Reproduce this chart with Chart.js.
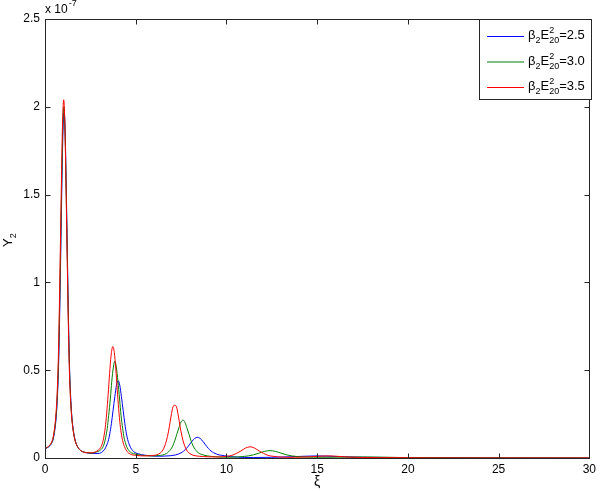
<!DOCTYPE html>
<html>
<head>
<meta charset="utf-8">
<script src="https://cdn.jsdelivr.net/npm/chart.js@4.4.1/dist/chart.umd.min.js"></script>
<style>
  html, body { margin: 0; padding: 0; background: #fff; }
  #wrap { width: 600px; height: 491px; }
</style>
</head>
<body>
<div id="wrap"><canvas id="grafico" width="600" height="491"></canvas></div>
<script>
// Valores (eixo y em unidades de 1e-7)
const xTicks = [0, 5, 10, 15, 20, 25, 30];
const yTicks = [0, 0.5, 1, 1.5, 2, 2.5];
const legendValues = ['2.5', '3.0', '3.5'];

// beta2*E20^2 = 2.5 (azul)
const xiBlue = [
    0, 0.09, 0.21, 0.33, 0.45, 0.57, 0.63, 0.69, 0.75, 0.81,
    0.87, 0.93, 0.99, 1.05, 1.11, 1.17, 1.23, 1.29, 1.35, 1.41,
    1.47, 1.53, 1.65, 1.77, 1.89, 2.0, 2.3, 2.6, 2.92, 3.11,
    3.29, 3.38, 3.48, 3.57, 3.66, 3.75, 3.85, 3.94, 4.03, 4.12,
    4.21, 4.31, 4.40, 4.49, 4.58, 4.68, 4.77, 4.96, 5.14, 5.5,
    6.0, 6.3, 6.6, 6.9, 7.2, 7.35, 7.5, 7.65, 7.8, 7.95,
    8.1, 8.25, 8.4, 8.55, 8.7, 8.85, 9.0, 9.15, 9.3, 9.45,
    9.6, 9.9, 10.2, 10.6, 11.0, 11.5, 12.5, 13.5, 14.3, 15.0,
    15.7, 16.5, 17.5, 18.5, 20, 22, 24, 27, 30
];
const yBlue = [
    0.054, 0.057, 0.064, 0.078, 0.107, 0.183, 0.25, 0.36, 0.53, 0.82,
    1.18, 1.55, 1.86, 1.97, 1.86, 1.55, 1.18, 0.82, 0.53, 0.36,
    0.25, 0.183, 0.107, 0.07, 0.05, 0.04, 0.03, 0.026, 0.026, 0.031,
    0.05, 0.068, 0.096, 0.137, 0.196, 0.27, 0.35, 0.415, 0.44, 0.415,
    0.35, 0.27, 0.196, 0.137, 0.096, 0.068, 0.05, 0.031, 0.024, 0.016,
    0.011, 0.010, 0.011, 0.0129, 0.0176, 0.0223, 0.0295, 0.040, 0.055, 0.0745,
    0.095, 0.1115, 0.118, 0.1115, 0.095, 0.0745, 0.055, 0.040, 0.0295, 0.0223,
    0.0176, 0.0129, 0.008, 0.005, 0.003, 0.003, 0.004, 0.007, 0.010, 0.012,
    0.010, 0.007, 0.004, 0.003, 0.002, 0.0025, 0.001, 0.0005, 0.0003
];

// beta2*E20^2 = 3.0 (verde)
const xiGreen = [
    0, 0.08, 0.20, 0.32, 0.44, 0.56, 0.62, 0.68, 0.74, 0.80,
    0.86, 0.92, 0.98, 1.04, 1.10, 1.16, 1.22, 1.28, 1.34, 1.40,
    1.46, 1.52, 1.64, 1.76, 1.88, 2.0, 2.3, 2.6, 2.83, 3.00,
    3.17, 3.26, 3.34, 3.43, 3.51, 3.60, 3.68, 3.77, 3.85, 3.93,
    4.02, 4.11, 4.19, 4.28, 4.36, 4.45, 4.53, 4.70, 4.87, 5.2,
    5.6, 6.0, 6.25, 6.48, 6.70, 6.81, 6.93, 7.04, 7.15, 7.26,
    7.38, 7.49, 7.60, 7.71, 7.82, 7.94, 8.05, 8.16, 8.28, 8.39,
    8.50, 8.73, 8.95, 9.4, 10.0, 10.6, 10.9, 11.2, 11.5, 11.8,
    12.1, 12.4, 12.7, 13.0, 13.3, 13.6, 13.9, 14.2, 14.8, 15.5,
    16.5, 17.5, 18.5, 19.5, 21, 23, 26, 30
];
const yGreen = [
    0.054, 0.057, 0.065, 0.079, 0.108, 0.186, 0.255, 0.36, 0.54, 0.83,
    1.20, 1.57, 1.88, 2.00, 1.88, 1.57, 1.20, 0.83, 0.54, 0.36,
    0.255, 0.186, 0.108, 0.071, 0.051, 0.04, 0.03, 0.028, 0.034, 0.041,
    0.058, 0.08, 0.115, 0.168, 0.243, 0.336, 0.437, 0.518, 0.552, 0.518,
    0.437, 0.336, 0.243, 0.168, 0.115, 0.08, 0.058, 0.034, 0.025, 0.017,
    0.013, 0.012, 0.014, 0.017, 0.026, 0.035, 0.049, 0.069, 0.098, 0.134,
    0.172, 0.204, 0.216, 0.204, 0.172, 0.134, 0.098, 0.069, 0.049, 0.035,
    0.026, 0.017, 0.012, 0.007, 0.0045, 0.006, 0.0083, 0.012, 0.0184, 0.028,
    0.0376, 0.042, 0.0376, 0.028, 0.0184, 0.012, 0.0083, 0.006, 0.0045, 0.004,
    0.005, 0.006, 0.005, 0.003, 0.002, 0.001, 0.0005, 0.0003
];

// beta2*E20^2 = 3.5 (vermelho)
const xiRed = [
    0, 0.07, 0.19, 0.31, 0.43, 0.55, 0.61, 0.67, 0.73, 0.79,
    0.85, 0.91, 0.97, 1.03, 1.09, 1.15, 1.21, 1.27, 1.33, 1.39,
    1.45, 1.51, 1.63, 1.75, 1.87, 2.0, 2.3, 2.6, 2.78, 2.94,
    3.10, 3.18, 3.26, 3.34, 3.42, 3.50, 3.58, 3.66, 3.74, 3.82,
    3.90, 3.98, 4.06, 4.14, 4.22, 4.30, 4.38, 4.54, 4.70, 5.0,
    5.5, 6.0, 6.15, 6.35, 6.45, 6.55, 6.65, 6.75, 6.85, 6.95,
    7.05, 7.15, 7.25, 7.35, 7.45, 7.55, 7.65, 7.75, 7.85, 7.95,
    8.15, 8.5, 9.0, 9.5, 9.8, 10.05, 10.3, 10.55, 10.8, 11.05,
    11.3, 11.55, 11.8, 12.05, 12.3, 12.55, 12.8, 13.3, 13.8, 14.5,
    15.0, 15.6, 16.2, 16.8, 17.5, 18.5, 19.5, 21, 23, 26, 30
];
const yRed = [
    0.055, 0.058, 0.066, 0.08, 0.11, 0.19, 0.26, 0.37, 0.55, 0.85,
    1.22, 1.60, 1.92, 2.04, 1.92, 1.60, 1.22, 0.85, 0.55, 0.37,
    0.26, 0.19, 0.11, 0.072, 0.052, 0.04, 0.03, 0.03, 0.035, 0.045,
    0.065, 0.09, 0.13, 0.19, 0.28, 0.39, 0.51, 0.60, 0.635, 0.60,
    0.51, 0.39, 0.28, 0.19, 0.13, 0.09, 0.065, 0.035, 0.022, 0.015,
    0.012, 0.015, 0.018, 0.028, 0.038, 0.056, 0.084, 0.123, 0.177, 0.239,
    0.29, 0.30, 0.29, 0.239, 0.177, 0.123, 0.084, 0.056, 0.038, 0.028,
    0.016, 0.01, 0.007, 0.006, 0.007, 0.010, 0.015, 0.026, 0.040, 0.0565,
    0.064, 0.0565, 0.040, 0.026, 0.015, 0.010, 0.007, 0.004, 0.004, 0.006,
    0.009, 0.012, 0.009, 0.005, 0.003, 0.002, 0.002, 0.001, 0.0005, 0.0003, 0.0002
];

const cores = ['#0000ff', '#008000', '#ff0000'];
const fonte = '"Liberation Sans", Arial, Helvetica, sans-serif';

function pontos(xs, ys) {
    return xs.map((x, i) => ({ x: x, y: ys[i] }));
}

// Plugin para a moldura, ticks internos, legenda e rótulos com sub/sobrescritos
const estiloMatlab = {
    id: 'estiloMatlab',
    afterDraw(chart) {
        const ctx = chart.ctx;
        const area = chart.chartArea;
        const sx = chart.scales.x;
        const sy = chart.scales.y;
        ctx.save();

        // moldura
        ctx.strokeStyle = '#262626';
        ctx.lineWidth = 1;
        const L = Math.round(area.left) + 0.5, R = Math.round(area.right) + 0.5;
        const T = Math.round(area.top) + 0.5, B = Math.round(area.bottom) + 0.5;
        ctx.strokeRect(L, T, R - L, B - T);

        // ticks para dentro nos quatro lados
        ctx.beginPath();
        xTicks.forEach(v => {
            const px = Math.round(sx.getPixelForValue(v)) + 0.5;
            ctx.moveTo(px, B); ctx.lineTo(px, B - 5);
            ctx.moveTo(px, T); ctx.lineTo(px, T + 5);
        });
        yTicks.forEach(v => {
            const py = Math.round(sy.getPixelForValue(v)) + 0.5;
            ctx.moveTo(L, py); ctx.lineTo(L + 5, py);
            ctx.moveTo(R, py); ctx.lineTo(R - 5, py);
        });
        ctx.stroke();

        ctx.fillStyle = '#000';
        ctx.textAlign = 'left';
        ctx.textBaseline = 'alphabetic';

        // multiplicador do eixo y
        ctx.font = '12px ' + fonte;
        ctx.fillText('x 10', 45, 13);
        const wx = ctx.measureText('x 10').width;
        ctx.font = '9px ' + fonte;
        ctx.fillText('-7', 45 + wx + 1, 6);

        // rótulo do eixo x
        ctx.font = '14px ' + fonte;
        ctx.textAlign = 'center';
        ctx.fillText('ξ', (area.left + area.right) / 2, 486);
        ctx.textAlign = 'left';

        // rótulo do eixo y (Y com índice 2)
        ctx.save();
        ctx.translate(12, 247);
        ctx.rotate(-Math.PI / 2);
        ctx.font = '13px ' + fonte;
        ctx.fillText('Y', 0, 0);
        const wy = ctx.measureText('Y').width;
        ctx.font = '9px ' + fonte;
        ctx.fillText('2', wy, 4);
        ctx.restore();

        // legenda
        const lx = 479.5, ly = 19.5, lw = 112, lh = 80;
        ctx.fillStyle = '#fff';
        ctx.fillRect(lx, ly, lw, lh);
        ctx.strokeStyle = '#262626';
        ctx.strokeRect(lx, ly, lw, lh);
        legendValues.forEach((val, i) => {
            const by = 39 + 25.5 * i;
            ctx.strokeStyle = cores[i];
            ctx.beginPath();
            ctx.moveTo(487, by - 2.5);
            ctx.lineTo(524, by - 2.5);
            ctx.stroke();

            ctx.fillStyle = '#000';
            let x = 528;
            ctx.font = '13px ' + fonte;
            ctx.fillText('β', x, by);
            x += ctx.measureText('β').width;
            ctx.font = '9px ' + fonte;
            ctx.fillText('2', x, by + 4);
            x += ctx.measureText('2').width;
            ctx.font = '13px ' + fonte;
            ctx.fillText('E', x, by);
            x += ctx.measureText('E').width;
            ctx.font = '9px ' + fonte;
            ctx.fillText('2', x, by - 6);
            ctx.fillText('20', x, by + 4);
            x += ctx.measureText('20').width;
            ctx.font = '13px ' + fonte;
            ctx.fillText('=' + val, x, by);
        });

        ctx.restore();
    }
};

const ctx = document.getElementById('grafico').getContext('2d');
new Chart(ctx, {
    type: 'line',
    data: {
        datasets: [
            { label: 'b2.5', data: pontos(xiBlue, yBlue), borderColor: cores[0], order: 3 },
            { label: 'b3.0', data: pontos(xiGreen, yGreen), borderColor: cores[1], order: 2 },
            { label: 'b3.5', data: pontos(xiRed, yRed), borderColor: cores[2], order: 1 }
        ]
    },
    options: {
        responsive: false,
        animation: false,
        devicePixelRatio: 1,
        layout: { padding: { top: 19, right: 8, left: 0, bottom: 0 } },
        elements: {
            line: { borderWidth: 1, fill: false, cubicInterpolationMode: 'monotone' },
            point: { radius: 0 }
        },
        plugins: {
            legend: { display: false },
            tooltip: { enabled: false }
        },
        scales: {
            x: {
                type: 'linear',
                min: 0,
                max: 30,
                afterFit: s => { s.height = 33; },
                afterBuildTicks: s => { s.ticks = xTicks.map(v => ({ value: v })); },
                ticks: { color: '#000', padding: 4, font: { family: fonte, size: 12 }, maxRotation: 0,
                         callback: v => String(v) },
                grid: { display: false, drawTicks: false },
                border: { display: false }
            },
            y: {
                min: 0,
                max: 2.5,
                afterFit: s => { s.width = 45; },
                afterBuildTicks: s => { s.ticks = yTicks.map(v => ({ value: v })); },
                ticks: { color: '#000', padding: 5, font: { family: fonte, size: 12 },
                         callback: v => String(v) },
                grid: { display: false, drawTicks: false },
                border: { display: false }
            }
        }
    },
    plugins: [estiloMatlab]
});
</script>
</body>
</html>
